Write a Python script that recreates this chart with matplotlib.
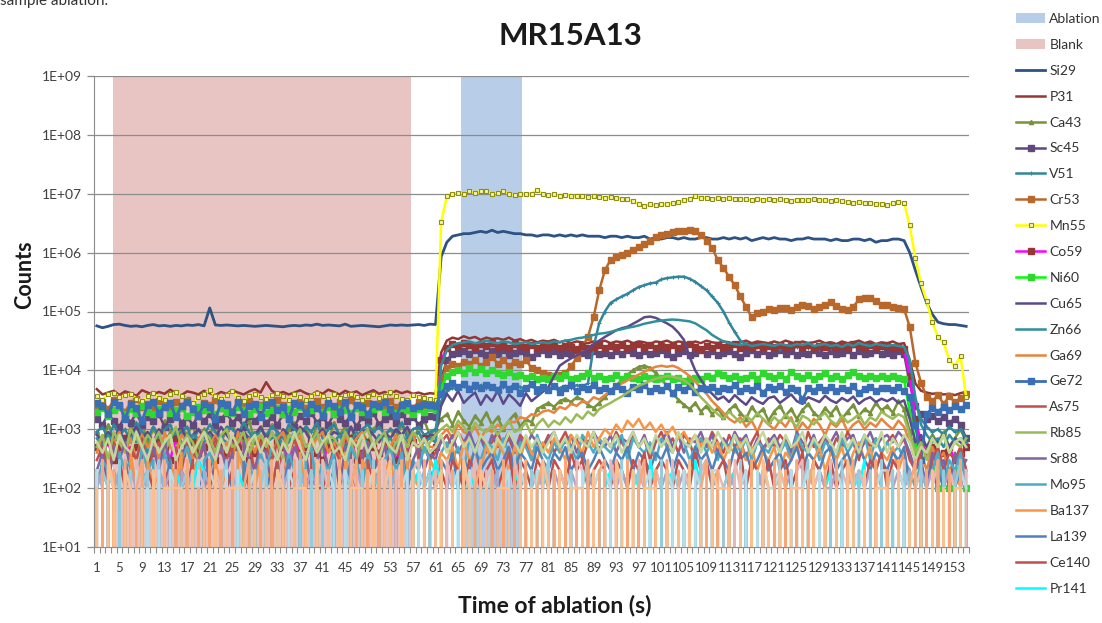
import matplotlib
matplotlib.use('Agg')
import matplotlib.pyplot as plt
import numpy as np
from matplotlib.patches import Patch
from matplotlib.ticker import FixedLocator, FuncFormatter, NullFormatter

plt.rcParams['font.family'] = ['Lato', 'DejaVu Sans']

# ---- data -------------------------------------------------------------
time_s = list(range(1, 156))
blank_range = [3.9, 56.7]
ablation_range = [65.5, 76.3]

si29 = [5.7e4, 5.3e4, 5.6e4, 6.0e4, 6.1e4, 5.8e4, 5.6e4, 5.7e4, 5.5e4, 5.8e4,
        6.0e4, 5.7e4, 5.8e4, 5.6e4, 5.8e4, 5.7e4, 5.9e4, 5.8e4, 6.0e4, 5.7e4,
        1.15e5, 5.9e4, 5.8e4, 5.9e4, 5.8e4, 5.7e4, 5.8e4, 5.7e4, 5.6e4, 5.7e4,
        5.8e4, 5.7e4, 5.6e4, 5.5e4, 5.7e4, 5.8e4, 5.7e4, 5.9e4, 5.8e4, 6.1e4,
        5.8e4, 5.9e4, 5.8e4, 5.7e4, 6.1e4, 5.6e4, 5.7e4, 5.8e4, 5.7e4, 5.6e4,
        5.5e4, 5.7e4, 5.9e4, 5.8e4, 5.9e4, 5.8e4, 5.9e4, 6.0e4, 5.8e4, 6.1e4,
        6.0e4, 8.5e5, 1.5e6, 1.9e6, 2.0e6, 2.1e6, 2.1e6, 2.2e6, 2.3e6, 2.2e6,
        2.4e6, 2.2e6, 2.3e6, 2.2e6, 2.1e6, 2.1e6, 2.0e6, 2.0e6, 1.9e6, 2.0e6,
        2.0e6, 1.9e6, 2.0e6, 1.9e6, 2.0e6, 1.9e6, 2.0e6, 1.9e6, 1.9e6, 1.9e6,
        1.8e6, 1.9e6, 1.9e6, 1.8e6, 1.9e6, 1.8e6, 1.8e6, 1.9e6, 1.7e6, 1.8e6,
        1.7e6, 1.8e6, 1.8e6, 1.7e6, 1.8e6, 1.7e6, 1.7e6, 1.8e6, 1.8e6, 1.7e6,
        1.7e6, 1.8e6, 1.7e6, 1.8e6, 1.7e6, 1.8e6, 1.6e6, 1.7e6, 1.8e6, 1.7e6,
        1.8e6, 1.7e6, 1.7e6, 1.6e6, 1.7e6, 1.7e6, 1.8e6, 1.7e6, 1.7e6, 1.7e6,
        1.6e6, 1.7e6, 1.6e6, 1.6e6, 1.7e6, 1.7e6, 1.6e6, 1.7e6, 1.5e6, 1.6e6,
        1.6e6, 1.7e6, 1.7e6, 1.6e6, 1.0e6, 5.0e5, 2.6e5, 1.4e5, 9.0e4, 6.6e4,
        6.2e4, 6.0e4, 6.0e4, 5.8e4, 5.6e4]

p31 = [4.8e3, 3.9e3, 4.2e3, 4.5e3, 3.8e3, 4.4e3, 4.1e3, 3.7e3, 4.6e3, 4.2e3,
       3.9e3, 4.3e3, 4.0e3, 4.7e3, 4.1e3, 3.8e3, 4.4e3, 4.2e3, 3.9e3, 4.5e3,
       4.1e3, 3.8e3, 4.3e3, 4.0e3, 4.6e3, 4.2e3, 3.9e3, 4.4e3, 4.8e3, 4.2e3,
       6.3e3, 4.5e3, 4.0e3, 4.3e3, 3.9e3, 4.2e3, 4.6e3, 4.1e3, 3.8e3, 4.4e3,
       4.0e3, 4.7e3, 4.3e3, 3.9e3, 4.5e3, 4.1e3, 4.4e3, 3.8e3, 4.2e3, 4.6e3,
       4.0e3, 4.3e3, 3.9e3, 4.5e3, 4.1e3, 4.4e3, 4.0e3, 4.2e3, 3.9e3, 4.1e3,
       4.0e3, 2.0e4, 3.2e4, 3.6e4, 3.4e4, 3.8e4, 3.5e4, 3.7e4, 3.3e4, 3.6e4,
       3.4e4, 3.5e4, 3.3e4, 3.6e4, 3.2e4, 3.4e4, 3.1e4, 3.3e4, 3.0e4, 3.2e4,
       3.1e4, 3.3e4, 3.0e4, 3.2e4, 2.9e4, 3.1e4, 3.0e4, 2.9e4, 3.1e4, 3.0e4,
       3.2e4, 2.9e4, 3.1e4, 3.0e4, 3.2e4, 2.9e4, 3.1e4, 3.0e4, 2.8e4, 3.1e4,
       3.0e4, 3.2e4, 2.9e4, 3.1e4, 3.0e4, 2.8e4, 3.1e4, 2.9e4, 3.2e4, 3.0e4,
       2.9e4, 3.1e4, 3.0e4, 2.8e4, 3.0e4, 3.2e4, 2.9e4, 3.1e4, 3.0e4, 2.9e4,
       3.1e4, 2.9e4, 3.2e4, 3.0e4, 2.8e4, 3.1e4, 2.9e4, 3.0e4, 3.2e4, 2.9e4,
       3.0e4, 2.8e4, 3.1e4, 2.9e4, 3.0e4, 3.2e4, 2.9e4, 3.1e4, 2.8e4, 3.0e4,
       2.9e4, 3.1e4, 2.8e4, 2.9e4, 1.5e4, 6.0e3, 4.5e3, 4.2e3, 4.0e3, 4.1e3,
       3.9e3, 4.0e3, 3.8e3, 4.1e3, 4.3e3]

ca43 = [9e2, 6e2, 1.2e3, 7e2, 1.0e3, 5e2, 1.1e3, 8e2, 1.3e3, 6e2,
        1.0e3, 7e2, 1.4e3, 9e2, 6e2, 1.1e3, 8e2, 1.2e3, 5e2, 1.0e3,
        8e2, 1.3e3, 6e2, 1.0e3, 1.2e3, 7e2, 9e2, 1.4e3, 6e2, 1.1e3,
        7e2, 1.2e3, 9e2, 5e2, 1.0e3, 1.3e3, 8e2, 1.1e3, 6e2, 1.2e3,
        1.0e3, 6e2, 1.3e3, 8e2, 1.1e3, 7e2, 1.2e3, 9e2, 6e2, 1.0e3,
        1.3e3, 8e2, 1.0e3, 7e2, 1.2e3, 9e2, 6e2, 1.1e3, 1.4e3, 8e2,
        1.0e3, 1.5e3, 1.8e3, 1.2e3, 2.0e3, 1.4e3, 1.1e3, 1.7e3, 1.3e3, 1.9e3,
        1.2e3, 1.6e3, 1.0e3, 1.4e3, 1.8e3, 1.1e3, 1.5e3, 1.3e3, 2.2e3, 2.5e3,
        2.8e3, 2.4e3, 3.0e3, 3.3e3, 2.9e3, 3.5e3, 3.2e3, 2.6e3, 2.3e3, 2.8e3,
        3.5e3, 4.5e3, 5.5e3, 7.0e3, 8.5e3, 1.0e4, 1.15e4, 1.2e4, 1.1e4, 9.0e3,
        7.0e3, 5.5e3, 4.0e3, 3.2e3, 2.6e3, 2.2e3, 2.8e3, 2.0e3, 2.5e3, 1.8e3,
        2.3e3, 1.6e3, 2.1e3, 2.6e3, 1.9e3, 1.5e3, 2.4e3, 1.8e3, 2.2e3, 1.4e3,
        2.0e3, 2.5e3, 1.7e3, 2.2e3, 1.5e3, 2.1e3, 2.7e3, 1.9e3, 1.6e3, 2.3e3,
        1.8e3, 2.4e3, 1.5e3, 2.0e3, 2.6e3, 1.7e3, 2.2e3, 1.9e3, 2.8e3, 2.1e3,
        2.5e3, 1.9e3, 3.0e3, 2.2e3, 9e2, 4e2, 7e2, 5e2, 8e2, 6e2,
        9e2, 5e2, 7e2, 1.0e3, 6e2]

sc45 = [1.5e3, 1.2e3, 1.8e3, 1.4e3, 1.1e3, 1.7e3, 1.3e3, 1.9e3, 1.2e3, 1.6e3,
        1.4e3, 1.8e3, 1.1e3, 1.5e3, 1.9e3, 1.3e3, 1.6e3, 1.2e3, 1.7e3, 1.4e3,
        1.8e3, 1.2e3, 1.5e3, 1.9e3, 1.3e3, 1.6e3, 1.1e3, 1.7e3, 1.4e3, 1.8e3,
        1.3e3, 1.6e3, 1.2e3, 1.8e3, 1.5e3, 1.1e3, 1.7e3, 1.4e3, 1.9e3, 1.3e3,
        1.6e3, 1.2e3, 1.8e3, 1.5e3, 1.3e3, 1.7e3, 1.1e3, 1.6e3, 1.4e3, 1.9e3,
        1.2e3, 1.5e3, 1.7e3, 1.3e3, 1.8e3, 1.4e3, 1.6e3, 1.2e3, 1.5e3, 1.7e3,
        1.6e3, 7.0e3, 1.5e4, 1.9e4, 2.0e4, 2.1e4, 1.9e4, 2.2e4, 2.0e4, 1.8e4,
        2.1e4, 1.9e4, 2.2e4, 1.8e4, 2.0e4, 2.1e4, 1.9e4, 1.7e4, 2.0e4, 2.2e4,
        1.9e4, 2.1e4, 1.8e4, 2.0e4, 1.9e4, 2.2e4, 2.0e4, 1.8e4, 2.1e4, 1.9e4,
        2.0e4, 1.8e4, 2.1e4, 1.9e4, 2.2e4, 2.0e4, 1.8e4, 2.1e4, 1.9e4, 2.0e4,
        2.2e4, 1.9e4, 1.7e4, 2.0e4, 2.1e4, 1.8e4, 2.0e4, 2.2e4, 1.9e4, 2.1e4,
        1.8e4, 2.0e4, 2.1e4, 1.9e4, 1.7e4, 2.0e4, 2.2e4, 1.9e4, 2.1e4, 1.8e4,
        2.0e4, 2.2e4, 1.9e4, 2.1e4, 1.8e4, 2.0e4, 1.9e4, 2.2e4, 2.0e4, 1.8e4,
        2.1e4, 1.9e4, 2.0e4, 2.2e4, 1.8e4, 2.1e4, 1.9e4, 2.0e4, 2.2e4, 1.9e4,
        2.0e4, 1.8e4, 2.1e4, 1.9e4, 6.0e3, 2.5e3, 1.8e3, 1.5e3, 1.7e3, 1.4e3,
        1.6e3, 1.3e3, 1.5e3, 1.2e3, 7e2]

v51 = [9e2, 1.1e3, 7e2, 1.2e3, 8e2, 1.0e3, 6e2, 1.3e3, 9e2, 7e2,
       1.1e3, 8e2, 1.0e3, 1.2e3, 7e2, 9e2, 1.1e3, 6e2, 1.0e3, 8e2,
       1.2e3, 9e2, 7e2, 1.1e3, 1.0e3, 8e2, 1.3e3, 9e2, 6e2, 1.0e3,
       8e2, 1.1e3, 9e2, 7e2, 1.2e3, 1.0e3, 8e2, 1.1e3, 9e2, 1.3e3,
       7e2, 1.0e3, 1.2e3, 8e2, 9e2, 1.1e3, 7e2, 1.0e3, 1.2e3, 9e2,
       1.1e3, 8e2, 1.0e3, 9e2, 1.3e3, 7e2, 1.0e3, 1.1e3, 8e2, 9e2,
       1.0e3, 3.0e3, 4.5e3, 5.0e3, 4.8e3, 5.5e3, 5.2e3, 4.9e3, 5.6e3, 5.1e3,
       5.4e3, 4.8e3, 5.3e3, 5.0e3, 5.7e3, 5.2e3, 4.9e3, 5.5e3, 5.1e3, 5.3e3,
       4.8e3, 5.2e3, 5.0e3, 5.4e3, 5.1e3, 5.6e3, 5.3e3, 6.0e3, 2.5e4, 6.4e4,
       1.0e5, 1.4e5, 1.6e5, 1.8e5, 2.0e5, 2.3e5, 2.6e5, 2.8e5, 3.0e5, 3.1e5,
       3.5e5, 3.7e5, 3.8e5, 3.9e5, 3.9e5, 3.6e5, 3.2e5, 2.7e5, 2.3e5, 1.8e5,
       1.4e5, 1.0e5, 6.5e4, 4.5e4, 3.2e4, 2.8e4, 2.6e4, 2.5e4, 2.4e4, 2.6e4,
       2.5e4, 2.3e4, 2.6e4, 2.4e4, 2.5e4, 2.7e4, 2.4e4, 2.5e4, 2.3e4, 2.6e4,
       2.4e4, 2.5e4, 2.7e4, 2.4e4, 2.6e4, 2.5e4, 2.3e4, 2.6e4, 2.5e4, 2.4e4,
       2.6e4, 2.5e4, 2.4e4, 2.3e4, 1.2e4, 3.0e3, 1.5e3, 1.1e3, 9e2, 1.0e3,
       8e2, 1.1e3, 9e2, 1.0e3, 7e2]

cr53 = [2.6e3, 2.9e3, 2.2e3, 3.1e3, 2.5e3, 2.0e3, 2.8e3, 3.3e3, 2.4e3, 2.7e3,
        2.3e3, 3.0e3, 2.6e3, 2.1e3, 2.9e3, 2.5e3, 3.2e3, 2.4e3, 2.2e3, 2.8e3,
        2.6e3, 3.1e3, 2.3e3, 2.7e3, 2.0e3, 2.9e3, 2.5e3, 3.0e3, 2.2e3, 2.6e3,
        2.8e3, 2.4e3, 3.2e3, 2.6e3, 2.1e3, 2.7e3, 2.9e3, 2.3e3, 2.5e3, 3.0e3,
        2.4e3, 2.7e3, 2.2e3, 2.9e3, 2.6e3, 3.1e3, 2.3e3, 2.5e3, 2.8e3, 2.2e3,
        2.7e3, 2.5e3, 3.0e3, 2.4e3, 2.6e3, 2.8e3, 2.3e3, 2.9e3, 2.5e3, 2.7e3,
        2.6e3, 7.0e3, 1.1e4, 1.3e4, 1.2e4, 1.4e4, 1.3e4, 1.5e4, 1.2e4, 1.4e4,
        1.7e4, 1.3e4, 1.5e4, 1.2e4, 1.4e4, 1.3e4, 1.5e4, 1.1e4, 1.0e4, 9.0e3,
        8.5e3, 8.0e3, 8.5e3, 9.0e3, 1.2e4, 1.6e4, 2.5e4, 3.7e4, 8.0e4, 2.3e5,
        5.0e5, 7.5e5, 8.5e5, 9.0e5, 1.0e6, 1.1e6, 1.25e6, 1.4e6, 1.6e6, 1.85e6,
        2.0e6, 2.1e6, 2.25e6, 2.3e6, 2.35e6, 2.4e6, 2.3e6, 2.0e6, 1.6e6, 1.2e6,
        7.5e5, 5.5e5, 3.9e5, 2.8e5, 1.8e5, 1.2e5, 8.0e4, 9.5e4, 1.0e5, 1.1e5,
        1.05e5, 1.15e5, 1.15e5, 1.05e5, 1.2e5, 1.3e5, 1.25e5, 1.1e5, 1.2e5, 1.3e5,
        1.45e5, 1.25e5, 1.1e5, 1.05e5, 1.2e5, 1.6e5, 1.7e5, 1.7e5, 1.5e5, 1.3e5,
        1.3e5, 1.2e5, 1.15e5, 1.1e5, 5.5e4, 1.35e4, 6.2e3, 3.5e3, 3.0e3, 3.8e3,
        2.7e3, 3.6e3, 2.9e3, 3.4e3, 3.9e3]

mn55 = [3.6e3, 3.2e3, 3.9e3, 4.2e3, 3.5e3, 3.8e3, 4.0e3, 3.3e3, 3.0e3, 3.6e3,
        4.1e3, 3.4e3, 3.1e3, 3.9e3, 4.3e3, 3.7e3, 3.2e3, 2.8e3, 3.5e3, 3.9e3,
        4.6e3, 3.6e3, 3.3e3, 3.8e3, 4.4e3, 3.4e3, 3.0e3, 3.7e3, 4.0e3, 3.5e3,
        3.3e3, 3.8e3, 4.1e3, 3.6e3, 3.2e3, 3.9e3, 3.5e3, 3.1e3, 3.7e3, 4.2e3,
        3.6e3, 3.3e3, 3.9e3, 3.4e3, 3.8e3, 4.0e3, 3.5e3, 3.2e3, 3.6e3, 3.9e3,
        3.4e3, 3.7e3, 4.3e3, 3.6e3, 3.3e3, 3.1e3, 3.8e3, 3.5e3, 3.4e3, 3.3e3,
        3.2e3, 3.3e6, 9.0e6, 1.0e7, 1.05e7, 1.0e7, 1.1e7, 1.05e7, 1.1e7, 1.1e7,
        1.0e7, 1.05e7, 1.1e7, 1.0e7, 9.5e6, 1.0e7, 9.8e6, 1.0e7, 1.15e7, 1.0e7,
        9.5e6, 9.8e6, 9.2e6, 9.5e6, 9.3e6, 9.0e6, 9.2e6, 8.8e6, 9.0e6, 8.8e6,
        8.6e6, 8.8e6, 8.5e6, 8.3e6, 8.0e6, 7.5e6, 6.6e6, 6.3e6, 6.6e6, 6.5e6,
        6.7e6, 6.6e6, 6.9e6, 7.2e6, 7.8e6, 8.2e6, 9.0e6, 8.4e6, 8.6e6, 8.2e6,
        8.4e6, 8.0e6, 8.6e6, 8.1e6, 8.3e6, 8.0e6, 7.8e6, 8.2e6, 7.9e6, 8.0e6,
        7.7e6, 8.1e6, 7.9e6, 7.6e6, 7.9e6, 7.8e6, 7.7e6, 8.0e6, 7.8e6, 7.7e6,
        7.6e6, 7.9e6, 7.5e6, 7.2e6, 7.0e6, 7.3e6, 6.9e6, 7.1e6, 6.6e6, 6.8e6,
        6.5e6, 6.9e6, 7.3e6, 7.0e6, 2.9e6, 8.0e5, 3.0e5, 1.5e5, 6.6e4, 3.7e4,
        3.0e4, 1.5e4, 1.2e4, 1.75e4, 3.5e3]

co59 = [5e2, 4e2, 6e2, 3e2, 5e2, 7e2, 4e2, 5e2, 6e2, 3e2,
        4e2, 6e2, 5e2, 3e2, 7e2, 4e2, 5e2, 6e2, 4e2, 5e2,
        6e2, 3e2, 5e2, 4e2, 6e2, 5e2, 7e2, 3e2, 4e2, 6e2,
        5e2, 4e2, 6e2, 5e2, 3e2, 7e2, 4e2, 5e2, 6e2, 4e2,
        3e2, 5e2, 6e2, 4e2, 5e2, 7e2, 3e2, 4e2, 6e2, 5e2,
        4e2, 6e2, 5e2, 3e2, 5e2, 4e2, 6e2, 5e2, 7e2, 4e2,
        5e2, 1.5e4, 2.4e4, 2.8e4, 2.6e4, 2.9e4, 2.7e4, 2.5e4, 2.8e4, 2.6e4,
        2.9e4, 2.5e4, 2.7e4, 2.4e4, 2.8e4, 2.6e4, 2.5e4, 2.7e4, 2.4e4, 2.6e4,
        2.5e4, 2.7e4, 2.4e4, 2.6e4, 2.5e4, 2.3e4, 2.6e4, 2.4e4, 2.5e4, 2.7e4,
        2.4e4, 2.6e4, 2.5e4, 2.7e4, 2.4e4, 2.6e4, 2.8e4, 2.5e4, 2.7e4, 2.4e4,
        2.6e4, 2.5e4, 2.7e4, 2.4e4, 2.6e4, 2.8e4, 2.5e4, 2.3e4, 2.6e4, 2.4e4,
        2.7e4, 2.5e4, 2.6e4, 2.8e4, 2.4e4, 2.6e4, 2.5e4, 2.7e4, 2.4e4, 2.6e4,
        2.5e4, 2.7e4, 2.4e4, 2.6e4, 2.8e4, 2.5e4, 2.7e4, 2.4e4, 2.6e4, 2.5e4,
        2.7e4, 2.4e4, 2.6e4, 2.5e4, 2.8e4, 2.6e4, 2.4e4, 2.7e4, 2.5e4, 2.6e4,
        2.6e4, 2.4e4, 2.5e4, 2.3e4, 8.0e3, 1.5e3, 6e2, 4e2, 5e2, 3e2,
        4e2, 5e2, 3e2, 4e2, 5e2]

ni60 = [2.0e3, 2.3e3, 1.7e3, 2.1e3, 2.4e3, 1.8e3, 2.2e3, 1.9e3, 2.5e3, 2.0e3,
        1.8e3, 2.2e3, 2.4e3, 1.9e3, 2.1e3, 2.3e3, 1.7e3, 2.0e3, 2.4e3, 2.1e3,
        2.2e3, 1.8e3, 2.3e3, 2.0e3, 1.9e3, 2.4e3, 2.1e3, 1.8e3, 2.2e3, 2.5e3,
        1.9e3, 2.1e3, 2.3e3, 1.8e3, 2.2e3, 2.0e3, 2.4e3, 1.9e3, 2.1e3, 2.3e3,
        2.0e3, 2.4e3, 1.8e3, 2.2e3, 2.1e3, 1.9e3, 2.3e3, 2.0e3, 1.8e3, 2.2e3,
        2.4e3, 2.0e3, 2.2e3, 1.9e3, 2.3e3, 2.1e3, 1.8e3, 2.2e3, 2.0e3, 2.3e3,
        2.1e3, 5.0e3, 8.0e3, 9.5e3, 1.0e4, 9.0e3, 1.1e4, 9.5e3, 1.05e4, 9.0e3,
        1.0e4, 9.0e3, 8.5e3, 9.5e3, 8.0e3, 8.5e3, 7.5e3, 8.0e3, 7.0e3, 7.5e3,
        7.0e3, 8.0e3, 7.5e3, 8.5e3, 7.0e3, 7.5e3, 8.0e3, 9.0e3, 7.5e3, 8.0e3,
        7.0e3, 7.5e3, 8.5e3, 7.0e3, 8.0e3, 7.5e3, 7.0e3, 8.0e3, 7.5e3, 7.0e3,
        7.5e3, 8.0e3, 7.0e3, 7.5e3, 6.5e3, 7.0e3, 7.5e3, 7.0e3, 8.0e3, 7.5e3,
        9.0e3, 8.5e3, 7.5e3, 8.0e3, 7.0e3, 7.5e3, 8.5e3, 7.0e3, 9.0e3, 8.0e3,
        7.5e3, 8.5e3, 7.0e3, 9.5e3, 8.0e3, 7.5e3, 8.5e3, 7.0e3, 8.0e3, 9.0e3,
        7.5e3, 8.0e3, 7.0e3, 8.5e3, 9.5e3, 8.0e3, 7.5e3, 8.0e3, 7.5e3, 8.0e3,
        7.5e3, 8.0e3, 7.5e3, 7.0e3, 2.0e3, 6e2, 1.5e2, 0, 2e2, 1e2,
        0, 1e2, 2e2, 0, 1e2]

cu65 = [8e2, 6e2, 9e2, 7e2, 1.0e3, 6e2, 8e2, 1.1e3, 7e2, 9e2,
        6e2, 1.0e3, 8e2, 7e2, 9e2, 1.1e3, 6e2, 8e2, 1.0e3, 7e2,
        9e2, 7e2, 1.1e3, 8e2, 6e2, 1.0e3, 9e2, 7e2, 8e2, 1.1e3,
        7e2, 9e2, 6e2, 1.0e3, 8e2, 7e2, 1.1e3, 9e2, 6e2, 8e2,
        1.0e3, 7e2, 9e2, 8e2, 6e2, 1.1e3, 7e2, 9e2, 1.0e3, 8e2,
        6e2, 9e2, 7e2, 1.0e3, 8e2, 1.1e3, 7e2, 9e2, 6e2, 8e2,
        8e2, 2.5e3, 4.0e3, 3.0e3, 4.5e3, 2.8e3, 3.5e3, 4.2e3, 2.6e3, 3.8e3,
        3.0e3, 4.5e3, 2.7e3, 3.9e3, 3.2e3, 2.5e3, 4.1e3, 3.0e3, 3.6e3, 4.3e3,
        5.2e3, 8.0e3, 1.2e4, 1.4e4, 1.6e4, 1.8e4, 2.0e4, 2.3e4, 2.8e4, 3.2e4,
        3.7e4, 4.2e4, 4.8e4, 5.2e4, 5.5e4, 6.2e4, 7.0e4, 8.0e4, 8.2e4, 7.8e4,
        7.0e4, 6.3e4, 5.5e4, 4.4e4, 3.3e4, 1.7e4, 1.0e4, 6.9e3, 5.0e3, 4.0e3,
        3.2e3, 3.6e3, 2.9e3, 3.8e3, 3.1e3, 2.6e3, 3.5e3, 3.0e3, 2.7e3, 3.4e3,
        3.6e3, 2.8e3, 3.3e3, 3.9e3, 3.0e3, 2.7e3, 3.5e3, 3.2e3, 2.9e3, 3.7e3,
        3.1e3, 2.8e3, 3.4e3, 3.0e3, 3.6e3, 2.7e3, 3.2e3, 3.5e3, 2.9e3, 3.3e3,
        3.0e3, 3.4e3, 2.8e3, 3.1e3, 1.5e3, 6e2, 8e2, 5e2, 7e2, 6e2,
        8e2, 5e2, 7e2, 6e2, 5e2]

zn66 = [7e2, 5e2, 8e2, 6e2, 9e2, 5e2, 7e2, 6e2, 8e2, 4e2,
        6e2, 8e2, 5e2, 7e2, 9e2, 6e2, 5e2, 8e2, 7e2, 6e2,
        8e2, 5e2, 7e2, 6e2, 4e2, 8e2, 6e2, 7e2, 9e2, 5e2,
        6e2, 7e2, 8e2, 5e2, 6e2, 9e2, 7e2, 5e2, 6e2, 8e2,
        5e2, 7e2, 6e2, 8e2, 5e2, 6e2, 9e2, 7e2, 6e2, 5e2,
        8e2, 6e2, 7e2, 5e2, 8e2, 6e2, 7e2, 9e2, 6e2, 7e2,
        6e2, 1.2e4, 2.2e4, 2.7e4, 2.9e4, 3.0e4, 3.1e4, 2.9e4, 3.0e4, 3.2e4,
        3.0e4, 2.9e4, 3.1e4, 3.0e4, 2.8e4, 2.9e4, 3.0e4, 2.8e4, 2.9e4, 3.0e4,
        2.9e4, 3.1e4, 3.0e4, 3.2e4, 3.3e4, 3.5e4, 3.6e4, 3.8e4, 4.0e4, 4.2e4,
        4.3e4, 4.5e4, 4.8e4, 5.0e4, 5.3e4, 5.5e4, 5.8e4, 6.2e4, 6.5e4, 6.8e4,
        7.0e4, 7.2e4, 7.3e4, 7.2e4, 7.0e4, 6.8e4, 6.3e4, 5.5e4, 4.8e4, 4.0e4,
        3.5e4, 3.1e4, 2.9e4, 2.8e4, 2.7e4, 2.8e4, 2.6e4, 2.7e4, 2.8e4, 2.7e4,
        2.6e4, 2.8e4, 2.7e4, 2.6e4, 2.8e4, 2.7e4, 2.9e4, 2.6e4, 2.7e4, 2.8e4,
        2.6e4, 2.7e4, 2.5e4, 2.8e4, 2.6e4, 2.9e4, 2.7e4, 2.6e4, 2.8e4, 2.7e4,
        2.6e4, 2.7e4, 2.6e4, 2.5e4, 1.5e4, 3.5e3, 1.2e3, 8e2, 6e2, 7e2,
        5e2, 8e2, 6e2, 7e2, 6e2]

ga69 = [4e2, 8e2, 3e2, 6e2, 9e2, 4e2, 7e2, 3e2, 8e2, 5e2,
        7e2, 3e2, 9e2, 5e2, 4e2, 8e2, 6e2, 3e2, 7e2, 9e2,
        5e2, 8e2, 4e2, 6e2, 3e2, 9e2, 5e2, 7e2, 4e2, 8e2,
        6e2, 3e2, 7e2, 9e2, 4e2, 6e2, 8e2, 3e2, 5e2, 7e2,
        9e2, 4e2, 6e2, 3e2, 8e2, 5e2, 7e2, 9e2, 4e2, 6e2,
        3e2, 7e2, 5e2, 8e2, 4e2, 6e2, 9e2, 3e2, 7e2, 5e2,
        5e2, 8e2, 1.0e3, 7e2, 1.2e3, 9e2, 8e2, 1.1e3, 7e2, 1.0e3,
        9e2, 1.2e3, 1.0e3, 1.4e3, 1.3e3, 1.6e3, 1.5e3, 1.8e3, 1.7e3, 2.0e3,
        2.1e3, 1.9e3, 2.4e3, 2.2e3, 2.7e3, 2.5e3, 3.0e3, 2.8e3, 3.5e3, 3.2e3,
        3.8e3, 4.5e3, 5.2e3, 6.0e3, 6.8e3, 7.5e3, 8.5e3, 9.5e3, 1.05e4, 1.15e4,
        1.2e4, 1.15e4, 1.2e4, 1.1e4, 9.5e3, 8.0e3, 6.5e3, 5.0e3, 4.0e3, 3.0e3,
        2.4e3, 1.9e3, 1.5e3, 1.3e3, 1.6e3, 1.1e3, 1.4e3, 9e2, 1.5e3, 1.2e3,
        1.0e3, 1.4e3, 1.1e3, 1.6e3, 9e2, 1.3e3, 1.0e3, 1.5e3, 1.2e3, 8e2,
        1.3e3, 1.1e3, 1.5e3, 9e2, 1.2e3, 1.4e3, 1.0e3, 1.3e3, 1.1e3, 1.5e3,
        1.2e3, 1.0e3, 1.4e3, 1.1e3, 6e2, 3e2, 4e2, 2e2, 5e2, 3e2,
        4e2, 2e2, 3e2, 5e2, 2e2]

ge72 = [2.8e3, 2.5e3, 1.8e3, 2.9e3, 2.6e3, 1.5e3, 2.7e3, 2.3e3, 1.4e3, 2.6e3,
        2.9e3, 1.9e3, 2.4e3, 2.8e3, 1.6e3, 2.5e3, 2.9e3, 2.2e3, 1.7e3, 2.7e3,
        2.4e3, 1.5e3, 2.8e3, 2.6e3, 2.0e3, 2.9e3, 1.8e3, 2.5e3, 2.7e3, 1.6e3,
        2.6e3, 2.9e3, 2.1e3, 2.4e3, 1.5e3, 2.8e3, 2.6e3, 1.9e3, 2.7e3, 2.3e3,
        1.7e3, 2.8e3, 2.5e3, 2.0e3, 2.9e3, 1.6e3, 2.6e3, 2.4e3, 1.8e3, 2.7e3,
        2.5e3, 2.9e3, 2.2e3, 1.7e3, 2.6e3, 2.8e3, 2.3e3, 2.5e3, 2.7e3, 2.6e3,
        2.5e3, 4.0e3, 5.5e3, 6.0e3, 5.2e3, 5.8e3, 4.9e3, 5.6e3, 5.0e3, 5.7e3,
        5.3e3, 4.6e3, 5.9e3, 4.8e3, 5.5e3, 4.2e3, 5.1e3, 5.8e3, 4.5e3, 5.2e3,
        4.7e3, 5.4e3, 4.3e3, 5.0e3, 5.6e3, 4.4e3, 5.3e3, 4.9e3, 5.7e3, 4.6e3,
        5.1e3, 4.5e3, 5.5e3, 4.8e3, 4.2e3, 5.3e3, 4.9e3, 5.6e3, 4.4e3, 5.0e3,
        4.6e3, 5.4e3, 4.1e3, 5.2e3, 4.7e3, 5.5e3, 4.3e3, 5.0e3, 4.8e3, 5.3e3,
        4.5e3, 5.1e3, 4.9e3, 5.6e3, 4.4e3, 5.0e3, 4.6e3, 5.4e3, 4.2e3, 5.2e3,
        4.8e3, 5.5e3, 4.3e3, 5.1e3, 4.7e3, 3.2e3, 5.0e3, 4.5e3, 5.3e3, 4.6e3,
        5.2e3, 4.4e3, 5.0e3, 4.7e3, 5.4e3, 4.1e3, 4.9e3, 5.3e3, 4.5e3, 5.1e3,
        5.0e3, 4.6e3, 5.2e3, 4.4e3, 3.5e3, 1.2e3, 3.0e2, 1.8e3, 2.3e3, 2.0e3,
        2.4e3, 2.1e3, 2.5e3, 2.2e3, 2.6e3]

# the noisier isotopes, in hundreds of counts
as75_h = [3, 5, 2, 6, 4, 0, 5, 3, 7, 2, 4, 6, 3, 0, 5, 2, 6, 4, 3, 5,
          2, 7, 4, 3, 6, 0, 4, 5, 2, 6, 5, 3, 6, 2, 4, 7, 3, 0, 5, 4,
          6, 2, 5, 3, 0, 4, 6, 3, 5, 2, 4, 6, 2, 5, 3, 6, 0, 4, 5, 3,
          4, 6, 8, 5, 9, 6, 7, 4, 8, 5, 6, 9, 5, 7, 4, 8, 6, 3, 7, 5,
          8, 4, 6, 9, 5, 7, 3, 6, 8, 4, 7, 5, 9, 6, 4, 8, 5, 7, 3, 6,
          9, 5, 7, 4, 8, 6, 3, 7, 5, 9, 6, 4, 8, 5, 7, 3, 6, 9, 4, 7,
          5, 8, 6, 3, 7, 4, 9, 5, 6, 8, 4, 7, 5, 9, 6, 3, 8, 5, 7, 4,
          6, 8, 5, 7, 3, 2, 4, 0, 3, 5, 2, 4, 3, 5, 2]

rb85_h = [5, 8, 3, 9, 6, 4, 10, 7, 5, 8, 6, 9, 4, 7, 11, 5, 8, 6, 3, 9,
          7, 4, 8, 10, 5, 6, 9, 4, 7, 8, 5, 9, 6, 3, 8, 7, 10, 5, 6, 9,
          4, 8, 7, 5, 9, 6, 3, 8, 10, 5, 7, 9, 4, 6, 8, 5, 9, 7, 4, 6,
          8, 10, 12, 9, 14, 11, 8, 13, 10, 9, 12, 8, 11, 14, 9, 10, 13, 8, 12, 15,
          11, 14, 12, 16, 13, 18, 15, 20, 17, 22, 25, 28, 32, 36, 42, 48, 55, 60, 66, 72,
          76, 80, 78, 74, 68, 58, 45, 35, 28, 22, 18, 15, 20, 16, 13, 17, 14, 19, 15, 12,
          16, 13, 18, 14, 11, 17, 15, 12, 16, 19, 14, 12, 17, 13, 15, 18, 12, 16, 14, 20,
          17, 15, 18, 16, 8, 4, 6, 3, 7, 5, 8, 4, 6, 5, 7]

sr88_h = [2, 4, 1, 5, 3, 6, 2, 0, 4, 3, 5, 2, 6, 3, 1, 4, 5, 2, 3, 6,
          1, 3, 5, 2, 4, 0, 6, 3, 2, 5, 4, 1, 3, 6, 2, 5, 3, 4, 1, 3,
          6, 2, 4, 1, 5, 3, 0, 4, 6, 2, 3, 5, 2, 4, 6, 1, 3, 5, 2, 4,
          3, 7, 5, 8, 4, 6, 9, 5, 7, 4, 8, 5, 6, 9, 4, 7, 5, 8, 6, 4,
          7, 9, 5, 6, 8, 4, 7, 5, 9, 6, 5, 8, 4, 7, 6, 9, 5, 8, 4, 7,
          6, 9, 5, 8, 4, 7, 6, 9, 5, 8, 4, 7, 5, 9, 6, 8, 4, 7, 5, 6,
          8, 5, 7, 4, 9, 6, 5, 8, 4, 7, 6, 9, 5, 7, 8, 4, 6, 9, 5, 7,
          8, 6, 9, 7, 4, 2, 3, 1, 4, 2, 3, 1, 4, 2, 3]

mo95_h = [1, 3, 2, 0, 4, 2, 3, 1, 5, 2, 3, 0, 4, 2, 1, 3, 5, 2, 0, 3,
          4, 2, 1, 3, 0, 5, 2, 3, 1, 4, 2, 5, 3, 1, 4, 2, 0, 3, 5, 1,
          3, 2, 4, 0, 2, 5, 3, 1, 4, 2, 0, 3, 5, 2, 4, 1, 3, 2, 5, 3,
          2, 4, 6, 3, 5, 2, 7, 4, 3, 6, 5, 3, 7, 4, 2, 6, 5, 3, 8, 4,
          3, 6, 4, 7, 5, 3, 8, 6, 4, 7, 5, 4, 6, 8, 3, 7, 5, 4, 6, 3,
          7, 5, 4, 8, 6, 3, 5, 7, 4, 6, 3, 6, 5, 8, 4, 7, 3, 6, 5, 4,
          7, 4, 6, 3, 8, 5, 4, 7, 3, 6, 5, 3, 7, 4, 6, 5, 8, 3, 7, 4,
          6, 4, 5, 3, 2, 1, 3, 0, 2, 4, 1, 3, 2, 4, 1]

ba137_h = [2, 0, 3, 1, 2, 0, 4, 1, 0, 3, 1, 2, 0, 3, 1, 4, 0, 2, 3, 1,
           0, 3, 1, 2, 0, 4, 2, 0, 1, 3, 2, 1, 0, 3, 2, 0, 4, 1, 2, 0,
           3, 1, 2, 0, 4, 1, 0, 3, 2, 1, 0, 2, 3, 1, 0, 4, 2, 1, 0, 3,
           2, 4, 3, 5, 2, 6, 3, 4, 2, 5, 3, 6, 4, 2, 5, 3, 7, 4, 3, 6,
           4, 7, 5, 3, 8, 6, 4, 9, 5, 7, 10, 8, 12, 9, 14, 11, 15, 10, 13, 9,
           12, 8, 11, 7, 9, 6, 8, 5, 7, 4, 6, 3, 5, 4, 6, 3, 5, 2, 4, 3,
           5, 2, 4, 3, 6, 2, 4, 3, 5, 2, 4, 3, 5, 2, 4, 6, 3, 5, 2, 4,
           3, 5, 2, 4, 1, 0, 2, 1, 0, 2, 1, 0, 2, 1, 0]

la139_h = [1, 0, 2, 1, 0, 3, 1, 0, 2, 1, 0, 2, 1, 3, 0, 1, 2, 0, 1, 2,
           2, 1, 0, 2, 1, 0, 3, 1, 2, 0, 1, 2, 0, 1, 3, 0, 2, 1, 0, 2,
           0, 1, 2, 0, 1, 3, 1, 0, 2, 1, 2, 0, 1, 2, 0, 1, 3, 0, 1, 2,
           1, 3, 2, 4, 1, 3, 2, 5, 2, 3, 4, 2, 3, 5, 2, 4, 3, 2, 5, 3,
           2, 4, 3, 5, 2, 3, 4, 2, 3, 5, 3, 2, 4, 3, 5, 2, 4, 3, 2, 4,
           3, 5, 2, 4, 3, 2, 5, 3, 4, 2, 4, 3, 2, 5, 3, 4, 2, 3, 5, 2,
           3, 4, 2, 3, 5, 2, 4, 3, 2, 4, 5, 2, 3, 4, 2, 5, 3, 2, 4, 3,
           2, 4, 3, 5, 1, 0, 2, 1, 0, 2, 1, 0, 1, 2, 0]

ce140_h = [0, 2, 1, 0, 3, 1, 2, 0, 1, 2, 1, 0, 2, 1, 0, 2, 1, 3, 0, 1,
           2, 1, 0, 1, 2, 0, 1, 2, 1, 0, 0, 1, 3, 0, 1, 2, 0, 1, 2, 1,
           1, 2, 0, 1, 0, 2, 1, 0, 3, 1, 2, 0, 1, 0, 2, 1, 0, 2, 1, 0,
           1, 2, 1, 3, 2, 1, 3, 2, 1, 2, 3, 1, 2, 4, 1, 3, 2, 1, 3, 2,
           1, 3, 2, 1, 4, 2, 3, 1, 2, 3, 2, 1, 3, 2, 1, 3, 2, 4, 1, 2,
           3, 2, 1, 3, 2, 1, 4, 2, 3, 1, 2, 3, 1, 2, 4, 1, 3, 2, 1, 3,
           1, 2, 3, 1, 2, 4, 1, 3, 2, 1, 3, 1, 2, 3, 1, 2, 1, 3, 2, 4,
           1, 3, 2, 1, 2, 0, 1, 0, 2, 1, 0, 1, 2, 0, 1]

pr141_h = [0, 1, 0, 2, 1, 0, 1, 0, 2, 0, 1, 0, 1, 0, 2, 1, 0, 1, 3, 2,
           0, 1, 0, 1, 0, 2, 1, 0, 1, 0, 2, 0, 1, 0, 1, 0, 2, 1, 0, 1,
           0, 1, 0, 2, 0, 1, 0, 1, 0, 2, 1, 0, 2, 0, 1, 0, 1, 2, 0, 1,
           3, 1, 0, 2, 1, 0, 2, 1, 0, 1, 2, 0, 1, 0, 2, 1, 0, 1, 2, 0,
           1, 0, 2, 1, 0, 1, 0, 2, 1, 0, 1, 2, 0, 1, 0, 2, 1, 0, 3, 1,
           0, 1, 2, 0, 1, 0, 3, 1, 0, 2, 1, 0, 1, 2, 0, 1, 0, 2, 1, 0,
           0, 2, 1, 0, 1, 0, 2, 1, 0, 1, 2, 0, 1, 0, 2, 1, 3, 0, 1, 0,
           1, 2, 0, 1, 0, 1, 0, 2, 0, 1, 0, 1, 0, 1, 0]

# further isotopes below the visible legend, in hundreds of counts
tint1_h = [1, 0, 3, 1, 0, 2, 1, 0, 1, 0, 2, 0, 1, 1, 1, 1, 0, 2, 0, 1,
           0, 2, 0, 1, 1, 1, 1, 0, 2, 0, 1, 0, 2, 1, 0, 1, 1, 1, 0, 3,
           0, 1, 0, 2, 0, 1, 1, 1, 0, 2, 0, 1, 3, 0, 1, 0, 2, 0, 1, 0,
           1, 2, 0, 1, 0, 3, 1, 0, 2, 1, 0, 1, 1, 1, 0, 2, 0, 1, 0, 3,
           1, 0, 2, 0, 1, 1, 1, 0, 2, 0, 1, 0, 3, 1, 0, 2, 0, 1, 1, 1,
           0, 2, 0, 1, 0, 3, 0, 1, 0, 2, 1, 1, 1, 0, 2, 0, 1, 0, 3, 1,
           0, 2, 0, 1, 1, 1, 0, 2, 0, 1, 0, 1, 0, 3, 1, 0, 2, 0, 1, 1,
           1, 0, 2, 0, 1, 0, 1, 0, 2, 0, 1, 0, 1, 1, 0]

tint2_h = [2, 1, 0, 2, 0, 1, 2, 0, 2, 1, 0, 2, 1, 0, 2, 0, 1, 2, 0, 2,
           1, 0, 2, 0, 1, 2, 0, 1, 0, 2, 0, 2, 0, 1, 2, 0, 2, 1, 0, 2,
           1, 0, 2, 0, 2, 1, 0, 2, 0, 1, 2, 0, 1, 2, 0, 2, 0, 1, 2, 0,
           2, 0, 1, 2, 0, 2, 1, 0, 2, 0, 1, 2, 0, 2, 0, 1, 2, 0, 2, 1,
           0, 2, 0, 1, 2, 0, 2, 0, 1, 2, 0, 2, 1, 0, 2, 0, 2, 1, 0, 2,
           1, 0, 2, 0, 1, 2, 0, 2, 0, 1, 2, 0, 2, 1, 0, 2, 0, 1, 2, 0,
           2, 1, 0, 2, 0, 2, 0, 1, 2, 0, 1, 2, 0, 2, 1, 0, 2, 0, 2, 1,
           0, 2, 0, 1, 2, 0, 2, 1, 0, 2, 0, 1, 2, 0, 2]

tint3_h = [0, 2, 1, 0, 3, 0, 2, 0, 1, 2, 0, 3, 0, 2, 0, 1, 2, 0, 3, 0,
           2, 0, 1, 3, 0, 2, 0, 2, 0, 1, 3, 0, 2, 0, 1, 0, 3, 0, 2, 0,
           2, 0, 3, 0, 2, 1, 0, 2, 0, 3, 0, 1, 2, 0, 3, 0, 2, 0, 1, 2,
           0, 3, 0, 2, 1, 0, 2, 0, 3, 0, 2, 0, 1, 2, 0, 3, 0, 2, 0, 1,
           3, 0, 2, 0, 2, 0, 1, 3, 0, 2, 0, 2, 0, 3, 0, 1, 2, 0, 2, 0,
           3, 0, 2, 1, 0, 2, 0, 3, 0, 2, 0, 1, 2, 0, 3, 0, 2, 0, 2, 1,
           0, 3, 0, 2, 0, 1, 3, 0, 2, 0, 2, 0, 3, 0, 1, 2, 0, 2, 0, 3,
           0, 2, 0, 2, 1, 0, 3, 0, 2, 0, 2, 0, 1, 3, 0]

tint4_h = [1, 2, 0, 2, 1, 0, 2, 1, 0, 2, 2, 0, 1, 2, 0, 2, 1, 0, 2, 0,
           0, 2, 1, 0, 2, 1, 0, 2, 1, 0, 1, 0, 2, 1, 0, 2, 0, 1, 2, 1,
           2, 1, 0, 2, 1, 0, 2, 1, 0, 2, 0, 2, 1, 0, 2, 1, 0, 2, 0, 1,
           1, 0, 2, 1, 0, 2, 1, 0, 2, 1, 2, 1, 0, 2, 0, 1, 2, 0, 1, 2,
           0, 2, 1, 0, 2, 1, 0, 2, 1, 0, 2, 0, 1, 2, 1, 0, 2, 1, 0, 2,
           1, 2, 0, 1, 2, 0, 1, 2, 0, 2, 0, 1, 2, 0, 2, 1, 0, 2, 1, 0,
           2, 0, 1, 2, 0, 1, 2, 0, 2, 1, 1, 2, 0, 2, 1, 0, 1, 2, 0, 2,
           0, 1, 2, 1, 0, 2, 0, 1, 2, 0, 1, 2, 0, 1, 2]

tint5_h = [6, 4, 7, 3, 8, 5, 4, 9, 5, 3, 7, 4, 6, 8, 3, 5, 7, 4, 6, 9,
           5, 3, 7, 4, 8, 5, 3, 6, 8, 4, 7, 5, 3, 6, 4, 9, 5, 3, 7, 4,
           6, 8, 4, 5, 3, 7, 5, 8, 4, 6, 3, 7, 5, 4, 8, 3, 6, 5, 7, 4,
           5, 8, 4, 6, 9, 5, 7, 4, 8, 6, 4, 7, 5, 9, 6, 4, 8, 5, 7, 4,
           6, 9, 5, 7, 4, 8, 6, 5, 9, 4, 7, 5, 8, 4, 6, 9, 5, 7, 4, 8,
           5, 7, 4, 9, 6, 5, 8, 4, 7, 5, 9, 6, 4, 8, 5, 7, 4, 6, 9, 5,
           7, 4, 8, 5, 6, 9, 4, 7, 5, 8, 6, 4, 9, 5, 7, 4, 8, 6, 5, 9,
           4, 7, 5, 8, 6, 3, 5, 4, 7, 5, 8, 4, 6, 7, 5]

tint6_h = [2, 0, 3, 1, 0, 2, 0, 3, 1, 0, 1, 3, 0, 2, 1, 0, 3, 0, 2, 1,
           0, 2, 1, 0, 3, 1, 0, 2, 0, 3, 2, 0, 1, 3, 0, 2, 1, 0, 2, 0,
           3, 1, 0, 2, 0, 3, 1, 0, 2, 1, 0, 3, 0, 2, 1, 0, 2, 3, 0, 1,
           2, 0, 3, 1, 0, 2, 1, 3, 0, 2, 1, 0, 2, 0, 3, 1, 0, 2, 1, 0,
           3, 0, 2, 1, 0, 3, 2, 0, 1, 2, 0, 3, 1, 0, 2, 0, 3, 1, 0, 2,
           1, 0, 3, 0, 2, 1, 0, 2, 3, 0, 2, 1, 0, 3, 1, 0, 2, 0, 3, 1,
           0, 2, 1, 0, 2, 3, 0, 1, 2, 0, 3, 0, 2, 1, 0, 2, 1, 0, 3, 0,
           1, 2, 0, 3, 0, 1, 2, 0, 1, 3, 0, 2, 1, 0, 2]

tint7_h = [0, 3, 0, 2, 0, 3, 0, 1, 3, 0, 2, 0, 3, 0, 2, 0, 3, 0, 1, 0,
           3, 0, 2, 0, 3, 0, 1, 3, 0, 2, 0, 3, 0, 1, 0, 3, 0, 2, 0, 3,
           0, 2, 0, 3, 0, 1, 3, 0, 2, 0, 3, 0, 1, 0, 3, 0, 2, 0, 3, 0,
           0, 3, 0, 2, 0, 3, 0, 1, 3, 0, 2, 0, 3, 0, 2, 0, 3, 0, 1, 3,
           0, 2, 0, 3, 0, 1, 0, 3, 0, 2, 3, 0, 2, 0, 3, 0, 1, 3, 0, 2,
           0, 3, 0, 2, 0, 3, 0, 1, 3, 0, 2, 0, 3, 0, 1, 0, 3, 0, 2, 0,
           3, 0, 2, 0, 3, 0, 1, 3, 0, 2, 0, 3, 0, 1, 3, 0, 2, 0, 3, 0,
           2, 0, 3, 0, 1, 3, 0, 2, 0, 3, 0, 2, 0, 3, 0]

tint8_h = [2, 0, 2, 1, 0, 2, 0, 2, 0, 1, 0, 2, 0, 2, 1, 0, 2, 0, 2, 0,
           2, 1, 0, 2, 0, 2, 0, 1, 2, 0, 1, 0, 2, 0, 2, 1, 0, 2, 0, 2,
           0, 2, 1, 0, 2, 0, 2, 0, 1, 2, 2, 0, 2, 0, 1, 2, 0, 2, 1, 0,
           0, 2, 0, 1, 2, 0, 2, 0, 2, 1, 2, 0, 1, 2, 0, 2, 1, 0, 2, 0,
           0, 2, 0, 2, 1, 0, 2, 0, 1, 2, 2, 1, 0, 2, 0, 2, 0, 1, 2, 0,
           0, 2, 1, 0, 2, 0, 2, 1, 0, 2, 2, 0, 2, 0, 1, 2, 0, 2, 0, 1,
           1, 2, 0, 2, 0, 1, 2, 0, 2, 0, 0, 2, 1, 0, 2, 0, 2, 0, 1, 2,
           2, 0, 2, 1, 0, 2, 0, 2, 0, 1, 0, 2, 0, 2, 1]

# ---- series styling ------------------------------------------------------
named = [
    ('Si29', si29, dict(color='#2D5283', lw=2.0)),
    ('P31', p31, dict(color='#943634', lw=1.8)),
    ('Ca43', ca43, dict(color='#77933C', lw=1.8, marker='^', ms=3)),
    ('Sc45', sc45, dict(color='#5F497A', lw=1.8, marker='s', ms=3.8)),
    ('V51', v51, dict(color='#31859C', lw=1.8, marker='+', ms=3.5, mew=0.8)),
    ('Cr53', cr53, dict(color='#B9682C', lw=1.8, marker='s', ms=3.8)),
    ('Mn55', mn55, dict(color='#FFFF00', lw=1.8, marker='s', ms=3, mfc='#F4F4A8',
                        mec='#8E8E10', mew=0.8)),
    ('Co59', co59, dict(color='#FF00FF', lw=1.8, marker='s', ms=3.8, mfc='#953735',
                        mec='#953735')),
    ('Ni60', ni60, dict(color='#00FF00', lw=1.8, marker='s', ms=3.8, mfc='#2ED82E',
                        mec='#2ED82E')),
    ('Cu65', cu65, dict(color='#5C4A88', lw=1.8)),
    ('Zn66', zn66, dict(color='#2F8F9C', lw=1.8)),
    ('Ga69', ga69, dict(color='#E8843F', lw=1.8)),
    ('Ge72', ge72, dict(color='#3A6EB5', lw=2.0, marker='s', ms=3.8)),
    ('As75', np.array(as75_h) * 100, dict(color='#C0504D', lw=1.8)),
    ('Rb85', np.array(rb85_h) * 100, dict(color='#9BBB59', lw=1.8)),
    ('Sr88', np.array(sr88_h) * 100, dict(color='#8064A2', lw=1.8)),
    ('Mo95', np.array(mo95_h) * 100, dict(color='#4BACC6', lw=1.8)),
    ('Ba137', np.array(ba137_h) * 100, dict(color='#F79646', lw=1.8)),
    ('La139', np.array(la139_h) * 100, dict(color='#4F81BD', lw=1.8)),
    ('Ce140', np.array(ce140_h) * 100, dict(color='#C0504D', lw=1.8)),
    ('Pr141', np.array(pr141_h) * 100, dict(color='#00FFFF', lw=1.8)),
]
extra = [
    (tint5_h, '#C4D79B'), (tint2_h, '#95B3D7'), (tint4_h, '#B3A2C7'),
    (tint6_h, '#E6B9B8'), (tint3_h, '#93CDDD'), (tint8_h, '#B7DEE8'),
    (tint7_h, '#F8A878'), (tint1_h, '#FAC090'),
]

for name, vals, _ in named:
    if len(vals) != len(time_s):
        raise ValueError(f'{name}: {len(vals)} values')
for i, (vals, _) in enumerate(extra):
    if len(vals) != len(time_s):
        raise ValueError(f'extra {i}: {len(vals)} values')

# ---- figure --------------------------------------------------------------
fig = plt.figure(figsize=(11.02, 6.23), dpi=100)
ax = fig.add_axes([94 / 1102, 76 / 623, 875 / 1102, 471 / 623])
ax.set_yscale('log', nonpositive='clip')
ax.set_ylim(1e1, 1e9)
ax.set_xlim(0.5, 155.5)

ax.axvspan(*blank_range, color='#E8C4C3', zorder=0.2, lw=0)
ax.axvspan(*ablation_range, color='#B8CDE8', zorder=0.2, lw=0)
for k in range(2, 10):
    ax.axhline(10.0 ** k, color='#8C8C8C', lw=0.9, zorder=0.5)

for name, vals, st in named:
    ax.plot(time_s, vals, label=name, zorder=2, **st)
for vals, col in extra:
    ax.plot(time_s, np.array(vals) * 100, color=col, lw=1.8, zorder=2)

for sp in ['top', 'right']:
    ax.spines[sp].set_visible(False)
for sp in ['left', 'bottom']:
    ax.spines[sp].set_color('#8C8C8C')
    ax.spines[sp].set_zorder(3)

ax.yaxis.set_major_locator(FixedLocator([10.0 ** k for k in range(1, 10)]))
ax.yaxis.set_minor_locator(FixedLocator([]))
ax.yaxis.set_major_formatter(FuncFormatter(lambda v, p: '1E+%02d' % round(np.log10(v))))
ax.tick_params(axis='y', length=5, width=0.9, color='#8C8C8C', labelsize=10,
               labelcolor='#404040', pad=4)

ax.xaxis.set_major_locator(FixedLocator(time_s[::4]))
ax.xaxis.set_major_formatter(FuncFormatter(lambda v, p: '%d' % v))
ax.xaxis.set_minor_locator(FixedLocator(np.arange(0.5, 156, 1.0)))
ax.xaxis.set_minor_formatter(NullFormatter())
ax.tick_params(axis='x', which='major', length=0, labelsize=9.5, labelcolor='#404040', pad=11)
ax.tick_params(axis='x', which='minor', length=4, width=0.8, color='#8C8C8C')

fig.text(570 / 1102, 1 - 36 / 623, 'MR15A13', ha='center', va='center',
         fontsize=22.5, fontweight='bold', color='#1A1A1A')
fig.text(25 / 1102, 1 - 275 / 623, 'Counts', ha='center', va='center', rotation=90,
         fontsize=15.5, fontweight='bold', color='#1A1A1A')
fig.text(555 / 1102, 1 - 605 / 623, 'Time of ablation (s)', ha='center', va='center',
         fontsize=16.5, fontweight='bold', color='#1A1A1A')
fig.text(0.0, 1 - 1 / 623, 'sample ablation.', ha='left', va='center', fontsize=11,
         color='#333333')

handles = [Patch(facecolor='#B8CDE8', edgecolor='none', label='Ablation'),
           Patch(facecolor='#E8C4C3', edgecolor='none', label='Blank')]
for line in ax.get_lines():
    if not line.get_label().startswith('_'):
        handles.append(line)
fig.legend(handles=handles, loc='upper left', bbox_to_anchor=(1016 / 1102, 1 - 13 / 623),
           frameon=False, fontsize=10, labelspacing=1.0, handlelength=2.1,
           handletextpad=0.3, borderaxespad=0, borderpad=0, numpoints=1,
           labelcolor='#333333')

fig.savefig('out.png', dpi=100)
